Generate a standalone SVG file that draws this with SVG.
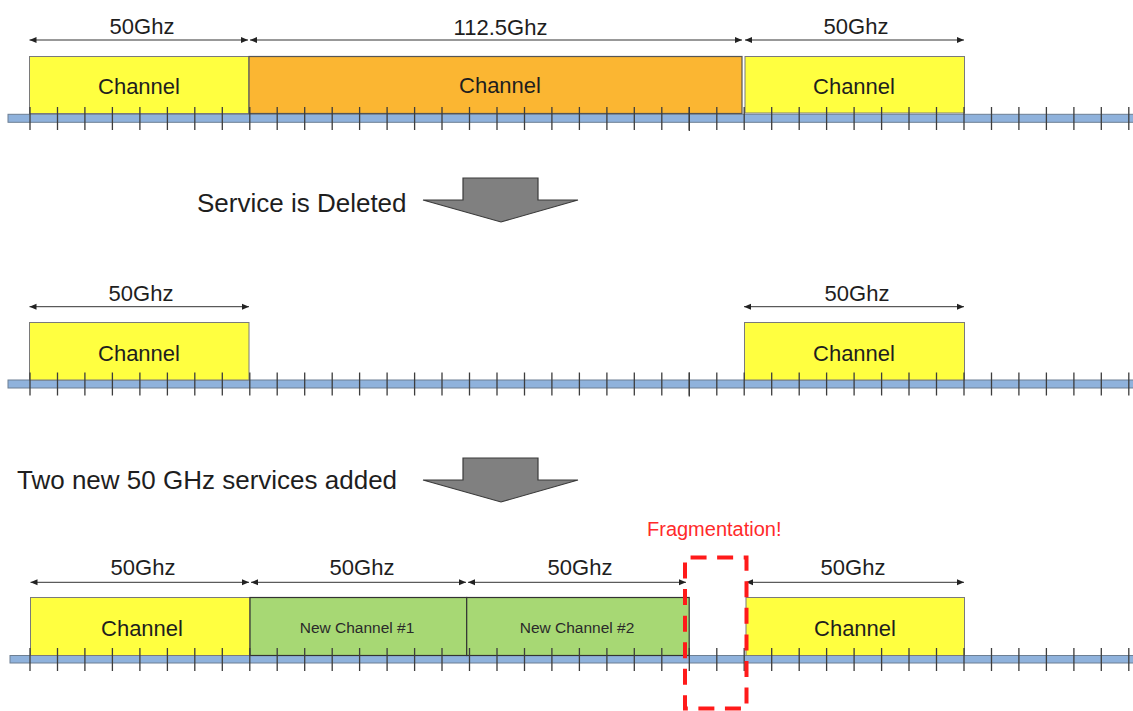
<svg xmlns="http://www.w3.org/2000/svg" width="1133" height="711" viewBox="0 0 1133 711">
  <style>
    text { font-family: "Liberation Sans", Arial, sans-serif; fill: #1e1e1e; }
    .dim { font-size: 22px; text-anchor: middle; }
    .ch { font-size: 22px; text-anchor: middle; }
    .nch { font-size: 15.5px; text-anchor: middle; fill: #2a2a2a; }
    .step { font-size: 26px; }
    .frag { font-size: 20px; fill: #ff2a2a; }
    .bar { fill: #8fb2dc; stroke: #6d7f93; stroke-width: 1; }
    .tick { stroke: #3d3d3d; stroke-width: 1.3; fill: none; }
    .yellow { fill: #ffff40; stroke: #7a7a7a; stroke-width: 1; }
    .orange { fill: #fbb632; stroke: #555; stroke-width: 1.2; }
    .green { fill: #a7d874; stroke: #333; stroke-width: 1.2; }
    .dimline { stroke: #333; stroke-width: 1; fill: none; marker-start: url(#ah-l); marker-end: url(#ah-r); }
    .bigarrow { fill: #808080; stroke: #3a3a3a; stroke-width: 1.2; stroke-linejoin: miter; }
    .gap { fill: none; stroke: #ff1a1a; stroke-width: 4; stroke-dasharray: 16 10.5625; stroke-dashoffset: 21; }
  </style>
  <defs>
    <marker id="ah-r" markerUnits="userSpaceOnUse" markerWidth="8" markerHeight="8" viewBox="0 0 8 8" refX="7" refY="4" orient="auto">
      <path d="M0 1L7 4L0 7Z" fill="#222"/>
    </marker>
    <marker id="ah-l" markerUnits="userSpaceOnUse" markerWidth="8" markerHeight="8" viewBox="0 0 8 8" refX="1" refY="4" orient="auto">
      <path d="M8 1L1 4L8 7Z" fill="#222"/>
    </marker>
    <!-- 6.25 GHz grid ticks, 27.47 px apart -->
    <path id="ticks" class="tick" d="M30 0v23M57.5 0v23M84.9 0v23M112.4 0v23M139.9 0v23M167.4 0v23M194.8 0v23M222.3 0v23M249.8 0v23M277.2 0v23M304.7 0v23M332.2 0v23M359.6 0v23M387.1 0v23M414.6 0v23M442 0v23M469.5 0v23M497 0v23M524.5 0v23M551.9 0v23M579.4 0v23M606.9 0v23M634.3 0v23M661.8 0v23M689.3 0v23M716.8 0v23M744.2 0v23M771.7 0v23M799.2 0v23M826.6 0v23M854.1 0v23M881.6 0v23M909 0v23M936.5 0v23M964 0v23M991.5 0v23M1018.9 0v23M1046.4 0v23M1073.9 0v23M1101.3 0v23M1128.8 0v23"/>
  </defs>

  <!-- Row 1: initial spectrum -->
  <g id="row1">
    <rect class="bar" x="8" y="114.3" width="1130" height="8"/>
    <g id="r1-ch-a">
      <rect class="yellow" x="29.5" y="56.5" width="219.5" height="57"/>
      <text class="ch" x="139" y="94">Channel</text>
    </g>
    <g id="r1-ch-b">
      <rect class="orange" x="249" y="56.5" width="493" height="57"/>
      <text class="ch" x="500" y="93">Channel</text>
    </g>
    <g id="r1-ch-c">
      <rect class="yellow" x="745" y="56.5" width="219.5" height="56.5"/>
      <text class="ch" x="854" y="94">Channel</text>
    </g>
    <use href="#ticks" y="107"/>
    <path class="tick" d="M689.3 107v24" stroke-width="2.2"/>
    <text class="dim" x="142" y="34">50Ghz</text>
    <text class="dim" x="500.5" y="35">112.5Ghz</text>
    <text class="dim" x="856" y="34">50Ghz</text>
  </g>

  <!-- Row 2: after deletion -->
  <g id="row2">
    <rect class="bar" x="8" y="380" width="1130" height="8"/>
    <g id="r2-ch-a">
      <rect class="yellow" x="29.5" y="322.5" width="219.5" height="57.5"/>
      <text class="ch" x="139" y="360.5">Channel</text>
    </g>
    <g id="r2-ch-c">
      <rect class="yellow" x="744.5" y="322.5" width="220" height="57.5"/>
      <text class="ch" x="854" y="360.5">Channel</text>
    </g>
    <use href="#ticks" y="372.5"/>
    <path class="tick" d="M689.3 372.5v24" stroke-width="2.2"/>
    <text class="dim" x="141" y="300.5">50Ghz</text>
    <text class="dim" x="857" y="300.5">50Ghz</text>
  </g>

  <!-- Row 3: two new services added -->
  <g id="row3">
    <rect class="bar" x="10" y="655.5" width="1130" height="7.5"/>
    <g id="r3-ch-a">
      <rect class="yellow" x="30.5" y="597.5" width="219.5" height="58"/>
      <text class="ch" x="142" y="635.5">Channel</text>
    </g>
    <g id="r3-new-1">
      <rect class="green" x="250" y="597.5" width="216.7" height="58"/>
      <text class="nch" x="357" y="632.5">New Channel #1</text>
    </g>
    <g id="r3-new-2">
      <rect class="green" x="466.7" y="597.5" width="222.5" height="58"/>
      <text class="nch" x="577" y="632.5">New Channel #2</text>
    </g>
    <g id="r3-ch-c">
      <rect class="yellow" x="746" y="597.5" width="218.5" height="58"/>
      <text class="ch" x="855" y="635.5">Channel</text>
    </g>
    <use href="#ticks" y="648"/>
    <text class="dim" x="143" y="575">50Ghz</text>
    <text class="dim" x="362" y="575">50Ghz</text>
    <text class="dim" x="580" y="575">50Ghz</text>
    <text class="dim" x="853" y="575">50Ghz</text>
  </g>

  <!-- Step labels with block arrows -->
  <g id="step1">
    <text class="step" x="197" y="212">Service is Deleted</text>
    <polygon class="bigarrow" points="463,178 538,178 538,200 578,200 501,222 423,200 463,200"/>
  </g>
  <g id="step2">
    <text class="step" x="17" y="489">Two new 50 GHz services added</text>
    <polygon class="bigarrow" points="463,458 538,458 538,480 578,480 501,502 423,480 463,480"/>
  </g>

  <!-- Bandwidth dimension lines -->
  <g id="connectors">
    <line class="dimline" x1="29.5" y1="40" x2="248" y2="40"/>
    <line class="dimline" x1="250" y1="40" x2="742" y2="40"/>
    <line class="dimline" x1="745" y1="40" x2="964" y2="40"/>
    <line class="dimline" x1="29.5" y1="306.7" x2="249" y2="306.7"/>
    <line class="dimline" x1="744" y1="306.7" x2="964" y2="306.7"/>
    <line class="dimline" x1="30.5" y1="582.3" x2="249" y2="582.3"/>
    <line class="dimline" x1="251" y1="582.3" x2="466" y2="582.3"/>
    <line class="dimline" x1="468" y1="582.3" x2="686" y2="582.3"/>
    <line class="dimline" x1="746" y1="582.3" x2="964" y2="582.3"/>
  </g>

  <!-- Unusable gap highlight -->
  <g id="fragmentation">
    <text class="frag" x="647" y="535.5">Fragmentation!</text>
    <rect class="gap" x="685" y="557.5" width="61.5" height="151"/>
  </g>
</svg>
